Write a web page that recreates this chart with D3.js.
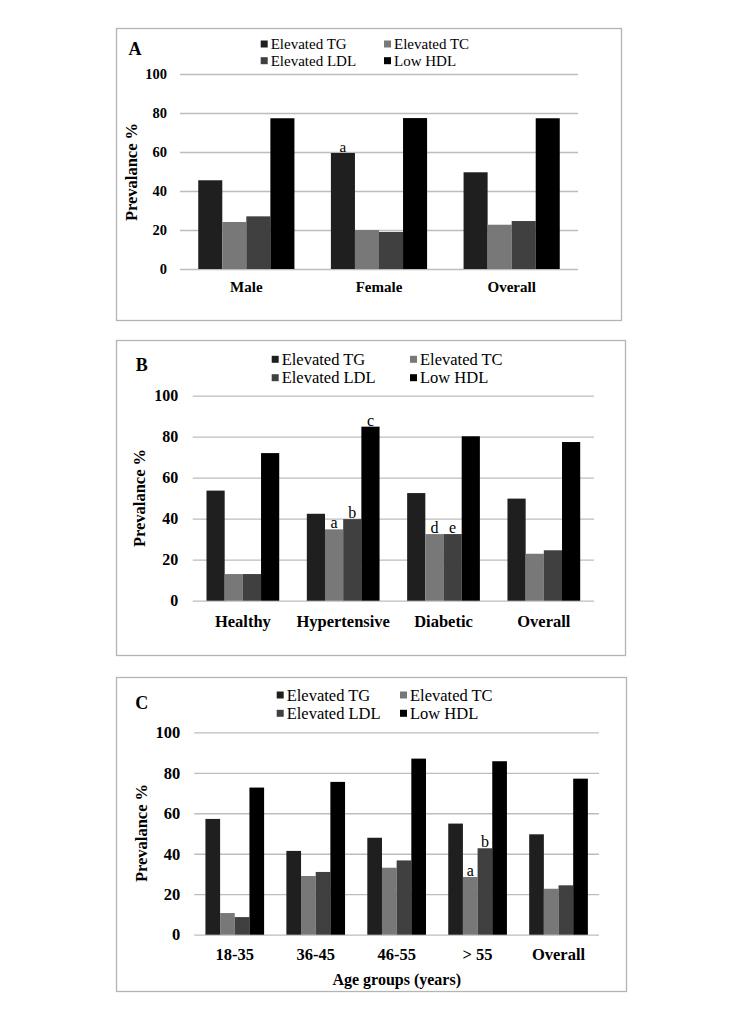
<!DOCTYPE html>
<html>
<head>
<meta charset="utf-8">
<script src="https://cdn.jsdelivr.net/npm/d3@7"></script>
<style>
  html, body { margin: 0; padding: 0; background: #fff; }
  svg { display: block; }
  text { font-family: "Liberation Serif", "Times New Roman", serif; fill: #000; }
</style>
</head>
<body>
<script>
// ---------- DATA ----------
const seriesNames = ["Elevated TG", "Elevated TC", "Elevated LDL", "Low HDL"];
const yTicks = [0, 20, 40, 60, 80, 100];

// Panel A: by sex
const catsA = ["Male", "Female", "Overall"];
const tgA  = [45.5, 59.5, 49.6];
const tcA  = [24.1, 20.0, 22.7];
const ldlA = [27.0, 19.0, 24.6];
const hdlA = [77.3, 77.4, 77.3];
const annotA = [{ cat: "Female", series: 0, label: "a" }];

// Panel B: by health status
const catsB = ["Healthy", "Hypertensive", "Diabetic", "Overall"];
const tgB  = [53.7, 42.4, 52.5, 49.8];
const tcB  = [13.0, 34.8, 32.5, 22.9];
const ldlB = [13.0, 39.8, 32.5, 24.6];
const hdlB = [72.0, 84.9, 80.2, 77.4];
const annotB = [
  { cat: "Hypertensive", series: 1, label: "a" },
  { cat: "Hypertensive", series: 2, label: "b" },
  { cat: "Hypertensive", series: 3, label: "c" },
  { cat: "Diabetic", series: 1, label: "d" },
  { cat: "Diabetic", series: 2, label: "e" }
];

// Panel C: by age group
const catsC = ["18-35", "36-45", "46-55", "> 55", "Overall"];
const tgC  = [57.2, 41.4, 47.9, 54.9, 49.6];
const tcC  = [10.7, 29.0, 33.1, 28.5, 22.7];
const ldlC = [8.7, 31.0, 36.7, 42.7, 24.4];
const hdlC = [72.7, 75.5, 87.0, 85.7, 77.1];
const annotC = [
  { cat: "> 55", series: 1, label: "a" },
  { cat: "> 55", series: 2, label: "b" }
];

// ---------- STYLE ----------
const colors = ["#1f1f1f", "#787878", "#404040", "#000000"];

const svg = d3.select("body").append("svg")
  .attr("width", 744).attr("height", 1016);

function drawPanel(cfg) {
  const g = svg.append("g");
  // frame
  g.append("rect")
    .attr("x", cfg.box[0] + 0.5).attr("y", cfg.box[1] + 0.5)
    .attr("width", cfg.box[2] - cfg.box[0]).attr("height", cfg.box[3] - cfg.box[1])
    .attr("fill", "none").attr("stroke", "#b4b4b4").attr("stroke-width", 1.3);

  const x0 = d3.scaleBand().domain(cfg.cats).range([cfg.left, cfg.right]).paddingInner(0.275).paddingOuter(0.1375);
  const x1 = d3.scaleBand().domain(d3.range(seriesNames.length)).range([0, x0.bandwidth()]);
  const y = d3.scaleLinear().domain([0, 100]).range([cfg.bottom, cfg.top]);

  // y axis with gridlines
  const ya = g.append("g").attr("transform", `translate(${cfg.left},0)`)
    .call(d3.axisLeft(y).tickValues(yTicks).tickSize(-(cfg.right - cfg.left)).tickPadding(cfg.tickPad));
  ya.select(".domain").remove();
  ya.selectAll(".tick line").attr("stroke", "#bdbdbd").attr("stroke-width", 1.3);
  ya.selectAll(".tick text")
    .attr("font-family", "Liberation Serif, Times New Roman, serif")
    .attr("font-weight", "bold").attr("font-size", cfg.tickFs).attr("fill", "#000");

  // bars
  const rows = cfg.cats.map((c, i) => ({ cat: c, vals: cfg.series.map(s => s[i]) }));
  const grp = g.append("g").selectAll("g").data(rows).join("g")
    .attr("transform", d => `translate(${x0(d.cat)},0)`);
  grp.selectAll("rect").data(d => d.vals.map((v, k) => ({ v, k }))).join("rect")
    .attr("x", d => x1(d.k)).attr("width", x1.bandwidth())
    .attr("y", d => y(d.v)).attr("height", d => y(0) - y(d.v))
    .attr("fill", d => colors[d.k]);

  // annotations
  g.append("g").selectAll("text").data(cfg.annot).join("text")
    .attr("x", d => x0(d.cat) + x1(d.series) + x1.bandwidth() / 2)
    .attr("y", d => y(cfg.series[d.series][cfg.cats.indexOf(d.cat)]) - 1)
    .attr("text-anchor", "middle").attr("font-size", cfg.annFs)
    .text(d => d.label);

  // category labels
  const xa = g.append("g").attr("transform", `translate(0,${cfg.catY})`)
    .call(d3.axisBottom(x0).tickSize(0).tickPadding(0));
  xa.select(".domain").remove();
  xa.selectAll(".tick text")
    .attr("font-family", "Liberation Serif, Times New Roman, serif")
    .attr("font-weight", "bold").attr("font-size", cfg.catFs).attr("fill", "#000")
    .attr("dy", "0.35em");

  // y title
  g.append("text")
    .attr("transform", `translate(${cfg.ytX},${cfg.ytY}) rotate(-90)`)
    .attr("text-anchor", "middle").attr("dy", "0.35em")
    .attr("font-weight", "bold").attr("font-size", 16.5)
    .text("Prevalance %");

  // x title
  if (cfg.xTitle) {
    g.append("text").attr("x", cfg.xTitle.x).attr("y", cfg.xTitle.y)
      .attr("text-anchor", "middle").attr("dy", "0.35em")
      .attr("font-weight", "bold").attr("font-size", 16)
      .text(cfg.xTitle.text);
  }

  // panel letter
  g.append("text").attr("x", cfg.letter.x).attr("y", cfg.letter.y)
    .attr("text-anchor", "middle").attr("dy", "0.35em")
    .attr("font-weight", "bold").attr("font-size", 18)
    .text(cfg.letter.text);

  // legend (2 x 2)
  const order = [0, 1, 2, 3];
  const lg = g.append("g").selectAll("g").data(order).join("g")
    .attr("transform", k => `translate(${cfg.legCols[k % 2]},${cfg.legRows[Math.floor(k / 2)]})`);
  lg.append("rect").attr("x", -10).attr("y", -3.5).attr("width", 7).attr("height", 7)
    .attr("fill", k => colors[k]);
  lg.append("text").attr("x", 0).attr("dy", "0.35em").attr("font-size", cfg.legFs)
    .text(k => seriesNames[k]);
}

drawPanel({
  box: [116, 28, 621, 320],
  cats: catsA, series: [tgA, tcA, ldlA, hdlA], annot: annotA,
  left: 180, right: 578, top: 74, bottom: 269,
  tickPad: 13, tickFs: 14.5, catFs: 15, catY: 287, annFs: 15,
  ytX: 131, ytY: 172,
  letter: { x: 135, y: 49, text: "A" },
  legCols: [270.7, 394], legRows: [44, 60.7], legFs: 15
});

drawPanel({
  box: [116, 340, 625, 655],
  cats: catsB, series: [tgB, tcB, ldlB, hdlB], annot: annotB,
  left: 192.7, right: 594, top: 395.7, bottom: 600.7,
  tickPad: 14.5, tickFs: 16, catFs: 16.5, catY: 621, annFs: 16,
  ytX: 139, ytY: 498,
  letter: { x: 141.7, y: 365, text: "B" },
  legCols: [281.7, 420], legRows: [359.3, 377.7], legFs: 16.5
});

drawPanel({
  box: [116, 677, 626, 991],
  cats: catsC, series: [tgC, tcC, ldlC, hdlC], annot: annotC,
  left: 194.3, right: 599, top: 732.3, bottom: 934.7,
  tickPad: 14, tickFs: 16.5, catFs: 16.5, catY: 954.3, annFs: 16,
  ytX: 141.7, ytY: 833,
  letter: { x: 141.7, y: 703, text: "C" },
  legCols: [286.7, 410], legRows: [695, 713.3], legFs: 16.5,
  xTitle: { x: 396.7, y: 979.3, text: "Age groups (years)" }
});
</script>
</body>
</html>
